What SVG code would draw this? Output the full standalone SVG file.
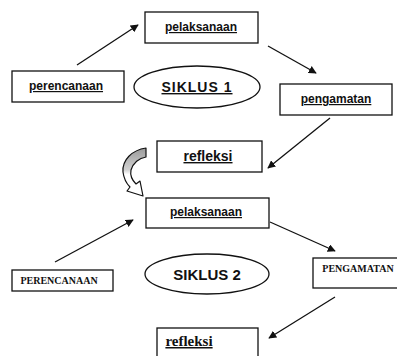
<svg xmlns="http://www.w3.org/2000/svg" width="397" height="356" viewBox="0 0 397 356">
<style>
.box{fill:#fff;stroke:#111;stroke-width:1.3}
.ell{fill:#fff;stroke:#111;stroke-width:1.3}
.sans{font-family:"Liberation Sans",Arial,sans-serif;font-weight:bold;fill:#111}
.serif{font-family:"Liberation Serif","Times New Roman",serif;font-weight:bold;fill:#111}
.ul{text-decoration:underline}
.con{stroke:#111;stroke-width:1.3;fill:none;marker-end:url(#ah)}
</style>
<defs>
<marker id="ah" viewBox="0 0 10 10" refX="9" refY="5" markerWidth="8" markerHeight="8" markerUnits="userSpaceOnUse" orient="auto">
<path d="M0,0 L10,5 L0,10 Z" fill="#111"/>
</marker>
<linearGradient id="cg" x1="0" y1="0" x2="0" y2="1">
<stop offset="0" stop-color="#9a9a9a"/>
<stop offset="0.45" stop-color="#d0d0d0"/>
<stop offset="0.55" stop-color="#fff"/>
<stop offset="1" stop-color="#fff"/>
</linearGradient>
</defs>
<rect width="397" height="356" fill="#fff"/>
<g id="connectors">
<line class="con" x1="77" y1="65" x2="138" y2="25"/>
<line class="con" x1="268" y1="46" x2="316" y2="73"/>
<line class="con" x1="330" y1="118" x2="268" y2="168"/>
<line class="con" x1="55" y1="262" x2="133" y2="220"/>
<line class="con" x1="270" y1="222" x2="335" y2="251"/>
<line class="con" x1="335" y1="297" x2="269" y2="338"/>
<path id="curved-arrow" d="M146,148 C132,150 122,160 123,172 C124,180 127,184 130,187 L127,191 L143,196 L140,181 L136,184 C132,180 130,175 131,170 C133,163 139,158 146,157 Z" fill="url(#cg)" stroke="#111" stroke-width="1.2" stroke-linejoin="round"/>
</g>
<g id="pelaksanaan1">
<rect class="box" x="145" y="12" width="113" height="31"/>
<text class="sans ul" x="201" y="31" font-size="12" text-anchor="middle">pelaksanaan</text>
</g>
<g id="perencanaan1">
<rect class="box" x="12" y="71" width="112" height="31"/>
<text class="sans ul" x="66" y="90" font-size="12" text-anchor="middle">perencanaan</text>
</g>
<g id="siklus1">
<ellipse class="ell" cx="197" cy="87" rx="63" ry="21"/>
<text class="sans ul" x="197" y="92" font-size="14" letter-spacing="1" text-anchor="middle">SIKLUS 1</text>
</g>
<g id="pengamatan1">
<rect class="box" x="280" y="84" width="112" height="31"/>
<text class="sans ul" x="336" y="103" font-size="12" text-anchor="middle">pengamatan</text>
</g>
<g id="refleksi1">
<rect class="box" x="157" y="141" width="105" height="31"/>
<text class="sans ul" x="208" y="161" font-size="14" text-anchor="middle">refleksi</text>
</g>
<g id="pelaksanaan2">
<rect class="box" x="146" y="198" width="123" height="30"/>
<text class="sans ul" x="206" y="216" font-size="12" text-anchor="middle">pelaksanaan</text>
</g>
<g id="perencanaan2">
<rect class="box" x="12" y="270" width="101" height="21"/>
<text class="serif" x="59" y="284" font-size="10" text-anchor="middle">PERENCANAAN</text>
</g>
<g id="siklus2">
<ellipse class="ell" cx="207" cy="274" rx="62" ry="20"/>
<text class="sans" x="207" y="280" font-size="15" text-anchor="middle">SIKLUS 2</text>
</g>
<g id="pengamatan2">
<rect class="box" x="313" y="258" width="90" height="30"/>
<text class="serif" x="358" y="272" font-size="10" text-anchor="middle">PENGAMATAN</text>
</g>
<g id="refleksi2">
<rect class="box" x="157" y="328" width="101" height="40"/>
<text class="serif ul" x="189" y="346" font-size="15" text-anchor="middle">refleksi</text>
</g>
</svg>
